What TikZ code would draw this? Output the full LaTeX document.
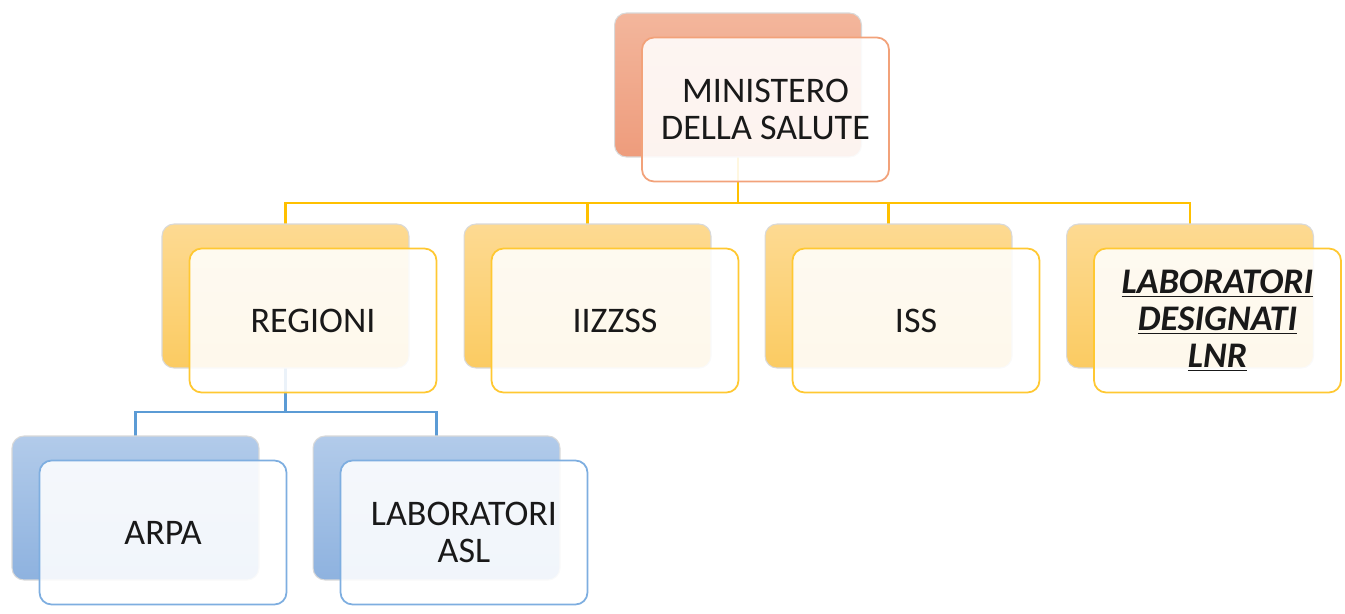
\documentclass[tikz,border=0pt]{standalone}
\usepackage{fontspec}
\setmainfont{Carlito}
\usepackage{tikz}
\usetikzlibrary{positioning,backgrounds}
\definecolor{salT}{HTML}{F3B69C}
\definecolor{salB}{HTML}{EE9C7C}
\definecolor{salD}{HTML}{F2A27A}
\definecolor{ylwT}{HTML}{FDDA92}
\definecolor{ylwB}{HTML}{FBCB62}
\definecolor{ylwD}{HTML}{FFC832}
\definecolor{ylwL}{HTML}{FFC000}
\definecolor{bluT}{HTML}{B2CBEA}
\definecolor{bluB}{HTML}{8EB2DF}
\definecolor{bluD}{HTML}{7EAEE0}
\definecolor{bluL}{HTML}{5B9BD5}

\begin{document}
\begin{tikzpicture}[x=0.02cm, y=-0.02cm,
  font=\fontsize{20.5}{21}\selectfont,
  card/.style={rounded corners=0.24cm, minimum width=4.94cm, minimum height=2.88cm, inner sep=0pt, outer sep=0pt},
  back/.style={card, draw=black!15, line width=0.6pt},
  front/.style={card, draw=#1, line width=1pt, fill=white, fill opacity=0.88, text opacity=1, align=center, text=black!90},
  oback/.style={back, top color=salT, bottom color=salB},
  yback/.style={back, top color=ylwT, bottom color=ylwB},
  bback/.style={back, top color=bluT, bottom color=bluB},
  ylink/.style={ylwL, line width=1.2pt},
  blink/.style={bluL, line width=1.2pt}]
\useasboundingbox (0,0) rectangle (1345,613);
% top
\node[oback] (minB) at (738,85) {};
\node[front=salD] (minF) at ([shift={(27.5,24.5)}]minB.center) {MINISTERO\\DELLA SALUTE};
% second row
\node[yback] (regB) at (285.5,296) {};
\node[front=ylwD] (regF) at ([shift={(27.5,24.5)}]regB.center) {REGIONI};
\node[yback] (izsB) at (587.5,296) {};
\node[front=ylwD] (izsF) at ([shift={(27.5,24.5)}]izsB.center) {IIZZSS};
\node[yback] (issB) at (888.5,296) {};
\node[front=ylwD] (issF) at ([shift={(27.5,24.5)}]issB.center) {ISS};
\node[yback] (lnrB) at (1190,296) {};
\node[front=ylwD, font=\fontsize{20.5}{21}\selectfont\bfseries\itshape] (lnrF) at ([shift={(27.5,24.5)}]lnrB.center)
  {\underline{LABORATORI}\\\underline{DESIGNATI}\\\underline{LNR}};
% third row
\node[bback] (arpaB) at (135.5,508) {};
\node[front=bluD] (arpaF) at ([shift={(27.5,24.5)}]arpaB.center) {ARPA};
\node[bback] (aslB) at (436.5,508) {};
\node[front=bluD] (aslF) at ([shift={(27.5,24.5)}]aslB.center) {LABORATORI\\ASL};
% links behind the cards
\begin{scope}[on background layer]
\foreach \n in {regB,izsB,issB,lnrB} \draw[ylink] (minB.south) -- ++(0,46) -| (\n.north);
\foreach \n in {arpaB,aslB} \draw[blink] (regB.south) -- ++(0,44) -| (\n.north);
\end{scope}
\end{tikzpicture}
\end{document}
